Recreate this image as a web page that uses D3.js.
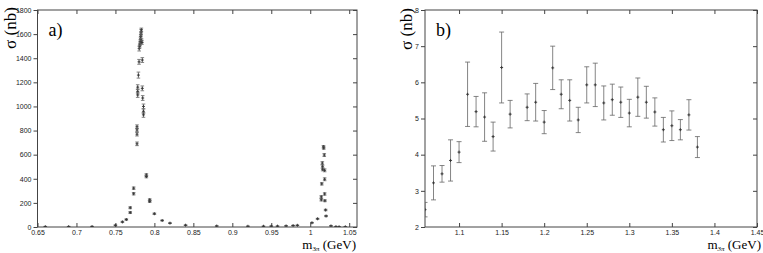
<!DOCTYPE html>
<html><head><meta charset="utf-8">
<script src="https://cdn.jsdelivr.net/npm/d3@7"></script>
<style>body{margin:0;background:#fff}svg{display:block}</style>
</head><body>
<svg id="c" width="763" height="253"></svg>
<script>
// Panel a) data: m_3pi (GeV), sigma (nb), error (nb)
const massA = [0.66,0.69,0.72,0.75,0.759,0.764,0.769,0.769,0.7734,0.7734,0.7777,0.7777,0.7777,0.7777,0.7786,0.7786,0.7786,0.7795,0.7803,0.7805,0.7812,0.7815,0.782,0.7822,0.7825,0.7828,0.783,0.7833,0.7836,0.784,0.7845,0.7845,0.785,0.786,0.786,0.786,0.7897,0.7897,0.794,0.794,0.80,0.81,0.82,0.84,0.88,0.92,0.94,0.95,0.958,0.969,0.978,0.9835,1.0022,1.0094,1.0142,1.0142,1.0148,1.0155,1.0158,1.016,1.017,1.0173,1.018,1.0185,1.0185,1.0185,1.0188,1.0197,1.0203,1.0266,1.033,1.037,1.045];
const sigmaA = [3,3,4,14,42,62,160,120,322,276,832,805,770,690,1160,1125,1095,1260,1370,1480,1500,1520,1540,1560,1580,1600,1620,1635,1545,1530,1385,1150,1070,1000,960,930,432,418,226,212,110,54,32,15,8,6,6,7,7,9,12,14,35,68,250,226,358,530,500,478,666,655,597,470,396,274,218,141,91,9,3,2,2];
const errA = [2,2,2,4,5,6,8,8,10,10,15,15,15,15,20,20,20,25,20,20,15,15,15,15,15,15,20,15,15,15,20,20,20,20,20,20,10,10,8,8,6,4,3,2,2,2,2,2,2,2,2,2,3,4,10,10,10,12,12,12,10,10,12,12,12,10,8,6,5,2,2,2,2];
// Panel b) data
const massB = [1.06,1.07,1.08,1.09,1.10,1.11,1.12,1.13,1.14,1.15,1.16,1.18,1.19,1.20,1.21,1.22,1.23,1.24,1.25,1.26,1.27,1.28,1.29,1.30,1.31,1.32,1.33,1.34,1.35,1.36,1.37,1.38];
const sigmaB = [2.48,3.22,3.47,3.84,4.07,5.67,5.19,5.04,4.50,6.41,5.12,5.31,5.45,4.90,6.40,5.67,5.50,4.96,5.93,5.93,5.43,5.52,5.45,5.15,5.59,5.45,5.18,4.69,4.80,4.69,5.10,4.21];
const errB = [0.2,0.47,0.23,0.57,0.29,0.89,0.42,0.67,0.40,0.98,0.38,0.37,0.52,0.32,0.60,0.40,0.57,0.35,0.50,0.60,0.47,0.43,0.42,0.38,0.53,0.44,0.39,0.34,0.41,0.28,0.42,0.29];
const xTicksA = [0.65,0.7,0.75,0.8,0.85,0.9,0.95,1,1.05];
const yTicksA = [0,200,400,600,800,1000,1200,1400,1600,1800];
const xTicksB = [1.1,1.15,1.2,1.25,1.3,1.35,1.4,1.45];
const yTicksB = [2,3,4,5,6,7,8];

const svg = d3.select("#c");
const serif = "'Liberation Serif','DejaVu Serif',serif";
const sans = "'Liberation Sans','DejaVu Sans',sans-serif";

function panel(opt){
  const {x0,x1,y0,y1,xd,yd,xt,yt,xs,ys,es,label,lab,fmtX,fmtY,cap} = opt;
  const x = d3.scaleLinear().domain(xd).range([x0,x1]);
  const y = d3.scaleLinear().domain(yd).range([y1,y0]);
  const g = svg.append("g");
  const clipId = "clip"+label;
  svg.append("clipPath").attr("id",clipId).append("rect").attr("x",x0).attr("y",y0).attr("width",x1-x0).attr("height",y1-y0);
  g.append("rect").attr("x",x0).attr("y",y0).attr("width",x1-x0).attr("height",y1-y0)
    .attr("fill","none").attr("stroke","#444").attr("stroke-width",1);
  const bottom = g.append("g").attr("transform",`translate(0,${y1})`)
    .call(d3.axisBottom(x).tickValues(xt).tickSizeInner(-4).tickSizeOuter(0).tickPadding(3).tickFormat(fmtX));
  const top = g.append("g").attr("transform",`translate(0,${y0})`)
    .call(d3.axisTop(x).tickValues(xt).tickSizeInner(-4).tickSizeOuter(0).tickFormat(""));
  const left = g.append("g").attr("transform",`translate(${x0},0)`)
    .call(d3.axisLeft(y).tickValues(yt).tickSizeInner(4).tickSizeOuter(0).tickPadding(2).tickFormat(fmtY));
  const right = g.append("g").attr("transform",`translate(${x1},0)`)
    .call(d3.axisRight(y).tickValues(yt).tickSizeInner(-4).tickSizeOuter(0).tickFormat(""));
  [bottom,top,left,right].forEach(a=>{
    a.attr("color","#222");
    a.select(".domain").remove();
    a.selectAll("line").attr("stroke","#444");
    a.selectAll("text").attr("font-family",sans).attr("font-size",7).attr("fill","#222");
  });
  const data = xs.map((v,i)=>({x:v,y:ys[i],e:es[i]}));
  const d = g.append("g").attr("clip-path",`url(#${clipId})`);
  const pts = d.selectAll("g.p").data(data).join("g").attr("class","p");
  pts.append("line").attr("x1",p=>x(p.x)).attr("x2",p=>x(p.x))
    .attr("y1",p=>y(p.y-p.e)).attr("y2",p=>y(p.y+p.e)).attr("stroke","#666").attr("stroke-width",0.8);
  [-1,1].forEach(s=>{
    pts.append("line").attr("x1",p=>x(p.x)-cap).attr("x2",p=>x(p.x)+cap)
      .attr("y1",p=>y(p.y+s*p.e)).attr("y2",p=>y(p.y+s*p.e)).attr("stroke","#666").attr("stroke-width",0.8);
  });
  pts.append("line").attr("x1",p=>x(p.x)-1.5).attr("x2",p=>x(p.x)+1.5)
    .attr("y1",p=>y(p.y)).attr("y2",p=>y(p.y)).attr("stroke","#333").attr("stroke-width",0.9);
  pts.append("line").attr("x1",p=>x(p.x)).attr("x2",p=>x(p.x))
    .attr("y1",p=>y(p.y)-1.5).attr("y2",p=>y(p.y)+1.5).attr("stroke","#333").attr("stroke-width",0.9);
  g.append("text").attr("x",x0+11).attr("y",y0+26).text(label+")")
    .attr("font-family",serif).attr("font-size",18).attr("fill","#000");
  g.append("text").attr("transform",`translate(${lab.yx},${lab.yy}) rotate(-90)`)
    .attr("text-anchor","middle").attr("font-family",serif).attr("font-size",17).attr("fill","#000")
    .text("σ (nb)");
  const t = g.append("text").attr("x",lab.xx).attr("y",lab.xy).attr("text-anchor","end")
    .attr("font-family",serif).attr("font-size",13).attr("fill","#000");
  t.append("tspan").text("m");
  t.append("tspan").attr("font-size",7).attr("dy",1.5).attr("font-style",opt.italSub?"italic":"normal").text("3π");
  t.append("tspan").attr("dy",-1.5).text(" (GeV)");
}

panel({x0:37.5,x1:357,y0:10,y1:227,xd:[0.65,1.06],yd:[0,1800],xt:xTicksA,yt:yTicksA,
  xs:massA,ys:sigmaA,es:errA,label:"a",cap:1.8,
  fmtX:d3.format(""), fmtY:d3.format("d"),
  lab:{yx:16,yy:28,xx:356,xy:249}});
panel({x0:425,x1:757,y0:10,y1:227,xd:[1.06,1.45],yd:[2,8],xt:xTicksB,yt:yTicksB,
  xs:massB,ys:sigmaB,es:errB,label:"b",cap:2.5,italSub:true,
  fmtX:d3.format(""), fmtY:d3.format("d"),
  lab:{yx:412,yy:29,xx:761,xy:249}});
</script>
</body></html>
